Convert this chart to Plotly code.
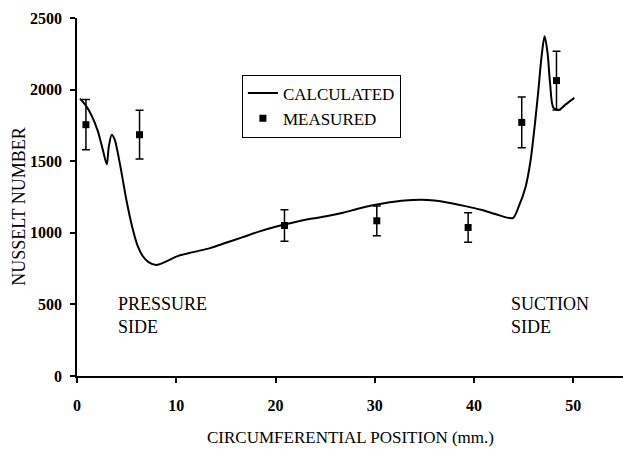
import plotly.graph_objects as go

# Calculated Nusselt number along circumference
calc_x = [0.3, 0.9, 1.5, 2.1, 2.6, 3.0, 3.2, 3.5, 3.8, 4.3, 5.0, 5.6, 6.1, 6.6, 7.2,
          8.0, 9.0, 10.0, 11.7, 13.4, 15.0, 16.7, 18.4, 20.1, 21.8, 23.4, 25.1, 26.8,
          28.3, 29.8, 31.5, 33.0, 34.7, 36.0, 37.3, 39.0, 40.7, 42.2, 43.9, 44.5,
          45.2, 45.7, 46.1, 46.45, 46.8, 47.1, 47.4, 47.65, 48.0, 48.6, 49.2, 50.1]
calc_y = [1937, 1888, 1815, 1710, 1580, 1478, 1600, 1685, 1650, 1490, 1220, 1030, 910, 840, 795,
          776, 800, 834, 865, 893, 930, 970, 1010, 1044, 1072, 1096, 1115, 1140,
          1168, 1192, 1213, 1226, 1231, 1225, 1212, 1188, 1161, 1130, 1103, 1184,
          1324, 1510, 1743, 1977, 2233, 2373, 2257, 2047, 1872, 1860, 1895, 1942]

# Measured values with error bars
meas_x = [0.9, 6.3, 20.9, 30.2, 39.4, 44.8, 48.3]
meas_y = [1755, 1685, 1051, 1084, 1037, 1771, 2063]
meas_err = [175, 170, 110, 104, 103, 177, 205]

x_ticks = [0, 10, 20, 30, 40, 50]
y_ticks = [0, 500, 1000, 1500, 2000, 2500]

SERIF = "Liberation Serif, Times New Roman, serif"

fig = go.Figure()
fig.add_trace(go.Scatter(
    x=calc_x, y=calc_y, mode="lines", name="CALCULATED",
    line=dict(color="black", width=2, shape="spline", smoothing=0.8),
))
fig.add_trace(go.Scatter(
    x=meas_x, y=meas_y, mode="markers", name="MEASURED",
    marker=dict(symbol="square", size=7, color="black"),
    error_y=dict(type="data", array=meas_err, visible=True, color="black",
                 thickness=1.5, width=4),
))

axis_common = dict(showgrid=False, zeroline=False, showline=True, linecolor="black",
                   linewidth=1.5, tickcolor="black", tickwidth=1.5, ticklen=5)

fig.update_layout(
    width=623, height=449,
    margin=dict(l=77, r=0, t=18, b=73),
    paper_bgcolor="white", plot_bgcolor="white",
    font=dict(family=SERIF, color="black"),
    xaxis=dict(range=[0, 55], tickvals=x_ticks, ticks="outside",
               tickfont=dict(family=SERIF, size=16, weight="bold"),
               ticklabelstandoff=9, **axis_common),
    yaxis=dict(range=[0, 2500], tickvals=y_ticks, ticks="outside",
               tickfont=dict(family=SERIF, size=16, weight="bold"),
               ticklabelstandoff=5, **axis_common),
    xaxis2=dict(range=[0, 55], tickvals=x_ticks, ticks="inside", overlaying="x",
                showticklabels=False, side="bottom", anchor="y", **axis_common),
    yaxis2=dict(range=[0, 2500], tickvals=y_ticks, ticks="inside", overlaying="y",
                showticklabels=False, side="left", anchor="x", **axis_common),
    legend=dict(x=0.302, y=0.842, xanchor="left", yanchor="top",
                bordercolor="black", borderwidth=1, bgcolor="white",
                font=dict(family=SERIF, size=17), itemwidth=30, tracegroupgap=0),
    showlegend=True,
)

fig.add_annotation(text="CIRCUMFERENTIAL POSITION (mm.)", xref="paper", yref="paper",
                   x=0.5, y=-0.172, showarrow=False, xanchor="center", yanchor="middle",
                   font=dict(family=SERIF, size=17))
fig.add_annotation(text="NUSSELT NUMBER", xref="paper", yref="paper",
                   x=-0.106, y=0.473, showarrow=False, textangle=-90,
                   xanchor="center", yanchor="middle",
                   font=dict(family=SERIF, size=18))
fig.add_annotation(text="PRESSURE<br>SIDE", xref="x", yref="y", x=3.9, y=420,
                   showarrow=False, xanchor="left", yanchor="middle", align="left",
                   font=dict(family=SERIF, size=18))
fig.add_annotation(text="SUCTION<br>SIDE", xref="x", yref="y", x=43.5, y=420,
                   showarrow=False, xanchor="left", yanchor="middle", align="left",
                   font=dict(family=SERIF, size=18))

fig.write_html("out.html")
